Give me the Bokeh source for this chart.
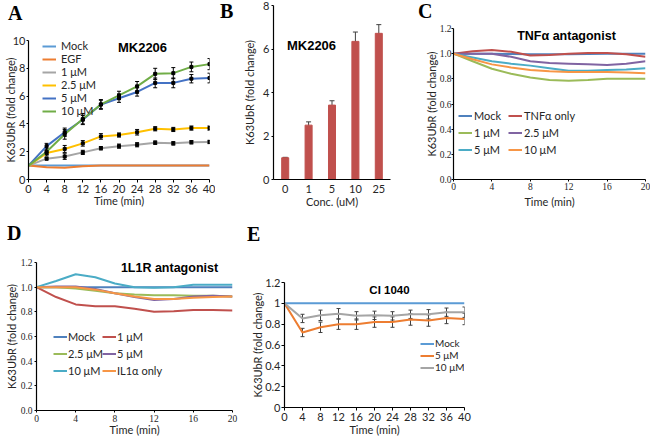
from bokeh.plotting import figure
from bokeh.layouts import column, row
from bokeh.models import (Legend, LegendItem, Label, Whisker, TeeHead, ColumnDataSource, Div,
                          FixedTicker, PrintfTickFormatter, CustomJSTickFormatter, Range1d, FactorRange)
from bokeh.embed import file_html
from bokeh.resources import INLINE

# ---------------- data ----------------
# Panel A: MK2206 time course
a_time = [0, 4, 8, 12, 16, 20, 24, 28, 32, 36, 40]
a_mock = [1.0, 1.0, 1.0, 1.0, 1.0, 1.0, 1.0, 1.0, 1.0, 1.0, 1.0]
a_egf = [1.0, 0.88, 0.84, 0.95, 1.0, 1.0, 1.0, 1.0, 1.0, 1.0, 1.0]
a_1um = [1.0, 1.5, 1.65, 1.95, 2.25, 2.4, 2.5, 2.65, 2.6, 2.68, 2.7]
a_1um_err = [0.0, 0.1, 0.2, 0.15, 0.12, 0.15, 0.15, 0.12, 0.12, 0.12, 0.12]
a_2p5um = [1.0, 1.9, 2.2, 2.6, 3.1, 3.2, 3.4, 3.65, 3.6, 3.7, 3.7]
a_2p5um_err = [0.0, 0.2, 0.25, 0.2, 0.2, 0.15, 0.2, 0.15, 0.15, 0.15, 0.15]
a_5um = [1.0, 2.4, 3.4, 4.3, 5.4, 5.85, 6.3, 6.95, 6.95, 7.25, 7.3]
a_5um_err = [0.0, 0.2, 0.3, 0.3, 0.3, 0.3, 0.3, 0.35, 0.35, 0.3, 0.35]
a_10um = [1.0, 2.0, 3.25, 4.35, 5.4, 6.05, 6.7, 7.6, 7.65, 8.1, 8.3]
a_10um_err = [0.0, 0.2, 0.35, 0.4, 0.35, 0.3, 0.35, 0.4, 0.4, 0.35, 0.4]

# Panel B: MK2206 dose
b_conc = ["0", "1", "5", "10", "25"]
b_value = [1.0, 2.5, 3.42, 6.35, 6.72]
b_err = [0.02, 0.15, 0.2, 0.43, 0.4]

# Panel C: TNFa antagonist
c_time = [0, 2, 4, 6, 8, 10, 12, 14, 16, 18, 20]
c_mock = [1.0, 1.0, 1.0, 0.998, 0.995, 0.995, 0.995, 0.998, 1.0, 1.0, 1.0]
c_tnf = [1.0, 1.02, 1.03, 1.015, 0.985, 0.99, 1.0, 1.005, 1.005, 0.995, 0.975]
c_1um = [1.0, 0.94, 0.88, 0.84, 0.81, 0.79, 0.785, 0.79, 0.8, 0.8, 0.8]
c_2p5um = [1.0, 1.0, 1.0, 0.975, 0.94, 0.925, 0.92, 0.915, 0.91, 0.92, 0.94]
c_5um = [1.0, 0.97, 0.94, 0.92, 0.905, 0.885, 0.865, 0.865, 0.87, 0.875, 0.885]
c_10um = [1.0, 0.955, 0.915, 0.89, 0.87, 0.86, 0.855, 0.855, 0.855, 0.85, 0.845]

# Panel D: IL1R antagonist
d_time = [0, 2, 4, 6, 8, 10, 12, 14, 16, 18, 20]
d_mock = [1.0, 1.0, 1.0, 1.0, 1.0, 1.0, 1.0, 1.0, 1.0, 1.0, 1.0]
d_1um = [1.0, 0.92, 0.86, 0.845, 0.845, 0.825, 0.8, 0.805, 0.815, 0.815, 0.81]
d_2p5um = [1.0, 1.0, 0.99, 0.97, 0.95, 0.94, 0.935, 0.935, 0.93, 0.93, 0.925]
d_5um = [1.0, 1.005, 1.005, 0.985, 0.95, 0.92, 0.895, 0.905, 0.925, 0.93, 0.925]
d_10um = [1.0, 1.05, 1.105, 1.08, 1.03, 1.0, 0.995, 1.0, 1.02, 1.02, 1.02]
d_il1 = [1.0, 1.0, 1.0, 0.98, 0.95, 0.925, 0.905, 0.905, 0.915, 0.92, 0.925]

# Panel E: CI 1040
e_time = [0, 4, 8, 12, 16, 20, 24, 28, 32, 36, 40]
e_mock = [1.0, 1.0, 1.0, 1.0, 1.0, 1.0, 1.0, 1.0, 1.0, 1.0, 1.0]
e_5um = [1.0, 0.72, 0.77, 0.8, 0.8, 0.82, 0.82, 0.845, 0.835, 0.86, 0.85]
e_5um_err = [0.0, 0.04, 0.05, 0.05, 0.05, 0.05, 0.05, 0.055, 0.055, 0.055, 0.055]
e_10um = [1.0, 0.855, 0.885, 0.9, 0.88, 0.885, 0.88, 0.895, 0.895, 0.915, 0.915]
e_10um_err = [0.0, 0.04, 0.05, 0.05, 0.04, 0.04, 0.04, 0.04, 0.045, 0.04, 0.05]

YLABEL = "K63UbR (fold change)"
SANS = "Lato"
TXT = "#262626"


def make_fig(w, h, bl, br, bt, bb, x_range, y_range):
    p = figure(width=w, height=h, min_border_left=bl, min_border_right=br,
               min_border_top=bt, min_border_bottom=bb, x_range=x_range, y_range=y_range,
               output_backend="svg", toolbar_location=None, title=None)
    p.frame_align = False
    p.outline_line_color = None
    p.grid.visible = False
    for ax in p.axis:
        ax.axis_line_color = "black"
        ax.axis_line_width = 1.2
        ax.major_tick_line_color = "black"
        ax.major_tick_in = 0
        ax.major_tick_out = 3
        ax.minor_tick_out = 0
        ax.minor_tick_in = 0
        ax.axis_label_text_font_style = "normal"
        ax.axis_label_text_font = SANS
        ax.axis_label_text_font_size = "11px"
        ax.axis_label_text_color = TXT
        ax.major_label_text_color = TXT
    return p


def style_ticks(p, font, size, x_stand, y_stand):
    for ax in p.axis:
        ax.major_label_text_font = font
        ax.major_label_text_font_size = size
    p.xaxis.major_label_standoff = x_stand
    p.yaxis.major_label_standoff = y_stand


def letter_div(ch, w, h, left, top):
    html = ('<div style="width:%dpx; height:%dpx; box-sizing:border-box; padding-left:%dpx; '
            'padding-top:%dpx; font-family:\'Liberation Serif\'; font-weight:bold; '
            'font-size:20px; line-height:22px; color:black; margin:0;">%s</div>'
            % (w, h, left, top, ch))
    return Div(text=html, width=w, height=h, margin=(0, 0, 0, 0))


def add_title(p, text, x, y, size):
    p.add_layout(Label(x=x, y=y, x_units="screen", y_units="screen", text=text,
                       text_font="Liberation Sans", text_font_style="bold",
                       text_font_size=size, text_color="black",
                       text_baseline="middle", text_align="center"))


def add_legend(p, items, x, y, row_h, fsize, standoff):
    leg = Legend(items=[LegendItem(label=l, renderers=[r]) for l, r in items],
                 location=(x, y), orientation="vertical", border_line_color=None,
                 background_fill_alpha=0, padding=0, margin=0, spacing=0,
                 glyph_width=14, glyph_height=row_h, label_height=row_h,
                 label_standoff=standoff, label_text_font=SANS,
                 label_text_font_size=fsize, label_text_color=TXT)
    p.add_layout(leg)


# ---------------- Panel A ----------------
pA = make_fig(215, 189, 23, 6, 10, 40, Range1d(0, 40), Range1d(0, 10))
pA.xaxis.ticker = FixedTicker(ticks=a_time)
pA.yaxis.ticker = FixedTicker(ticks=[0, 2, 4, 6, 8, 10])
style_ticks(pA, SANS, "11px", 2, 1)
pA.yaxis.major_tick_out = 2
pA.xaxis.axis_label = "Time (min)"
pA.yaxis.axis_label = YLABEL
pA.yaxis.axis_label_standoff = -7
pA.xaxis.axis_label_standoff = -2
rA = []
for ys, col in [(a_mock, "#5B9BD5"), (a_egf, "#ED7D31"), (a_1um, "#A5A5A5"),
                (a_2p5um, "#FFC000"), (a_5um, "#4472C4"), (a_10um, "#70AD47")]:
    rA.append(pA.line(a_time, ys, line_color=col, line_width=2))
for ys, es in [(a_1um, a_1um_err), (a_2p5um, a_2p5um_err), (a_5um, a_5um_err), (a_10um, a_10um_err)]:
    src = ColumnDataSource(dict(x=a_time[1:], y=ys[1:],
                                lo=[v - e for v, e in zip(ys[1:], es[1:])],
                                hi=[v + e for v, e in zip(ys[1:], es[1:])]))
    pA.add_layout(Whisker(source=src, base="x", lower="lo", upper="hi", line_color="black",
                          line_width=1,
                          upper_head=TeeHead(size=4, line_color="black", line_width=1),
                          lower_head=TeeHead(size=4, line_color="black", line_width=1)))
    pA.scatter("x", "y", source=src, marker="square", size=3, color="black")
add_legend(pA, list(zip(["Mock", "EGF", "1 μM", "2.5 μM", "5 μM", "10 μM"], rA)),
           14, 62, 12, "11px", 5)
add_title(pA, "MK2206", 114, 132, "13px")

# ---------------- Panel B ----------------
pB = make_fig(170, 219, 32, 20, 5, 40, FactorRange(*b_conc), Range1d(0, 8))
pB.yaxis.ticker = FixedTicker(ticks=[0, 2, 4, 6, 8])
style_ticks(pB, SANS, "11px", 5, 2)
pB.xaxis.major_tick_out = 0
pB.yaxis.major_tick_out = 2
pB.xaxis.axis_label = "Conc. (uM)"
pB.yaxis.axis_label = YLABEL
pB.yaxis.axis_label_standoff = 4
pB.xaxis.axis_label_standoff = -1
srcB = ColumnDataSource(dict(c=b_conc, v=b_value,
                             lo=[v - e for v, e in zip(b_value, b_err)],
                             hi=[v + e for v, e in zip(b_value, b_err)]))
pB.vbar(x="c", top="v", width=0.3, source=srcB, fill_color="#C0504D", line_color="#C0504D")
pB.add_layout(Whisker(source=srcB, base="c", lower="lo", upper="hi", line_color="#404040",
                      line_width=1,
                      upper_head=TeeHead(size=5, line_color="#404040", line_width=1),
                      lower_head=TeeHead(size=5, line_color="#404040", line_width=1)))
add_title(pB, "MK2206", 38, 134, "13px")

# ---------------- Panel C ----------------
pC = make_fig(240, 199, 43, 5, 8, 40, Range1d(0, 20), Range1d(0, 1.2))
pC.xaxis.ticker = FixedTicker(ticks=[0, 4, 8, 12, 16, 20])
pC.yaxis.ticker = FixedTicker(ticks=[0, 0.2, 0.4, 0.6, 0.8, 1.0, 1.2])
pC.yaxis.formatter = PrintfTickFormatter(format="%.1f")
style_ticks(pC, "Liberation Serif", "9.5px", 1, 0)
pC.xaxis.major_tick_out = 2
pC.yaxis.major_tick_out = 2
pC.xaxis.axis_label = "Time (min)"
pC.yaxis.axis_label = YLABEL
pC.yaxis.axis_label_standoff = -1
pC.xaxis.axis_label_standoff = 2
rC = {}
for name, ys, col in [("Mock", c_mock, "#4F81BD"), ("TNFα only", c_tnf, "#C0504D"),
                      ("1 μM", c_1um, "#9BBB59"), ("2.5 μM", c_2p5um, "#8064A2"),
                      ("5 μM", c_5um, "#4BACC6"), ("10 μM", c_10um, "#F79646")]:
    rC[name] = pC.line(c_time, ys, line_color=col, line_width=2)
add_legend(pC, [(k, rC[k]) for k in ["Mock", "1 μM", "5 μM"]], 5, 21, 17, "11px", 2)
add_legend(pC, [(k, rC[k]) for k in ["TNFα only", "2.5 μM", "10 μM"]], 55, 21, 17, "11px", 2)
add_title(pC, "TNFα antagonist", 113, 144, "12.5px")

# ---------------- Panel D ----------------
pD = make_fig(240, 189, 36, 8, 13, 26, Range1d(0, 20), Range1d(0, 1.2))
pD.xaxis.ticker = FixedTicker(ticks=[0, 4, 8, 12, 16, 20])
pD.yaxis.ticker = FixedTicker(ticks=[0, 0.2, 0.4, 0.6, 0.8, 1.0, 1.2])
pD.yaxis.formatter = PrintfTickFormatter(format="%.1f")
style_ticks(pD, "Liberation Serif", "9.5px", 2, 2)
pD.xaxis.major_tick_out = 2
pD.yaxis.major_tick_out = 2
pD.xaxis.axis_label = "Time (min)"
pD.yaxis.axis_label = YLABEL
pD.yaxis.axis_label_standoff = 0
pD.xaxis.axis_label_standoff = -2
rD = {}
for name, ys, col in [("Mock", d_mock, "#4F81BD"), ("1 μM", d_1um, "#C0504D"),
                      ("2.5 μM", d_2p5um, "#9BBB59"), ("5 μM", d_5um, "#8064A2"),
                      ("10 μM", d_10um, "#4BACC6"), ("IL1α only", d_il1, "#F79646")]:
    rD[name] = pD.line(d_time, ys, line_color=col, line_width=2)
add_legend(pD, [(k, rD[k]) for k in ["Mock", "2.5 μM", "10 μM"]], 17, 31, 17, "11px", 1)
add_legend(pD, [(k, rD[k]) for k in ["1 μM", "5 μM", "IL1α only"]], 66, 31, 17, "11px", 1)
add_title(pD, "1L1R antagonist", 133, 143, "12.5px")

# ---------------- Panel E ----------------
pE = make_fig(240, 189, 44, 16, 33, 31, Range1d(0, 40), Range1d(0, 1.2))
pE.xaxis.ticker = FixedTicker(ticks=e_time)
pE.yaxis.ticker = FixedTicker(ticks=[0, 0.2, 0.4, 0.6, 0.8, 1.0, 1.2])
pE.yaxis.formatter = CustomJSTickFormatter(code="return (Math.round(tick * 10) / 10).toString();")
style_ticks(pE, SANS, "11px", 2, 1)
pE.xaxis.axis_label = "Time (min)"
pE.yaxis.axis_label = YLABEL
pE.yaxis.axis_label_standoff = -2
pE.xaxis.axis_label_standoff = -1
rE = []
for ys, col in [(e_mock, "#5B9BD5"), (e_5um, "#ED7D31"), (e_10um, "#A5A5A5")]:
    rE.append(pE.line(e_time, ys, line_color=col, line_width=2))
for ys, es in [(e_5um, e_5um_err), (e_10um, e_10um_err)]:
    src = ColumnDataSource(dict(x=e_time[1:],
                                lo=[v - e for v, e in zip(ys[1:], es[1:])],
                                hi=[v + e for v, e in zip(ys[1:], es[1:])]))
    pE.add_layout(Whisker(source=src, base="x", lower="lo", upper="hi", line_color="#404040",
                          line_width=1,
                          upper_head=TeeHead(size=4, line_color="#404040", line_width=1),
                          lower_head=TeeHead(size=4, line_color="#404040", line_width=1)))
add_legend(pE, list(zip(["Mock", "5 μM", "10 μM"], rE)), 136, 34, 11, "10px", 1)
add_title(pE, "CI 1040", 105, 118, "11.5px")

# ---------------- layout ----------------
colA = column(letter_div("A", 215, 30, 8, 2), pA)
divB = letter_div("B", 25, 30, 5, 0)
colC = column(letter_div("C", 240, 20, 8, 0), pC)
colD = column(letter_div("D", 240, 30, 7, 3), pD)
colE = column(letter_div("E", 240, 30, 7, 4), pE)

layout = column(row(colA, divB, pB, colC), row(colD, colE))
open("out.html", "w").write(file_html(layout, INLINE))
